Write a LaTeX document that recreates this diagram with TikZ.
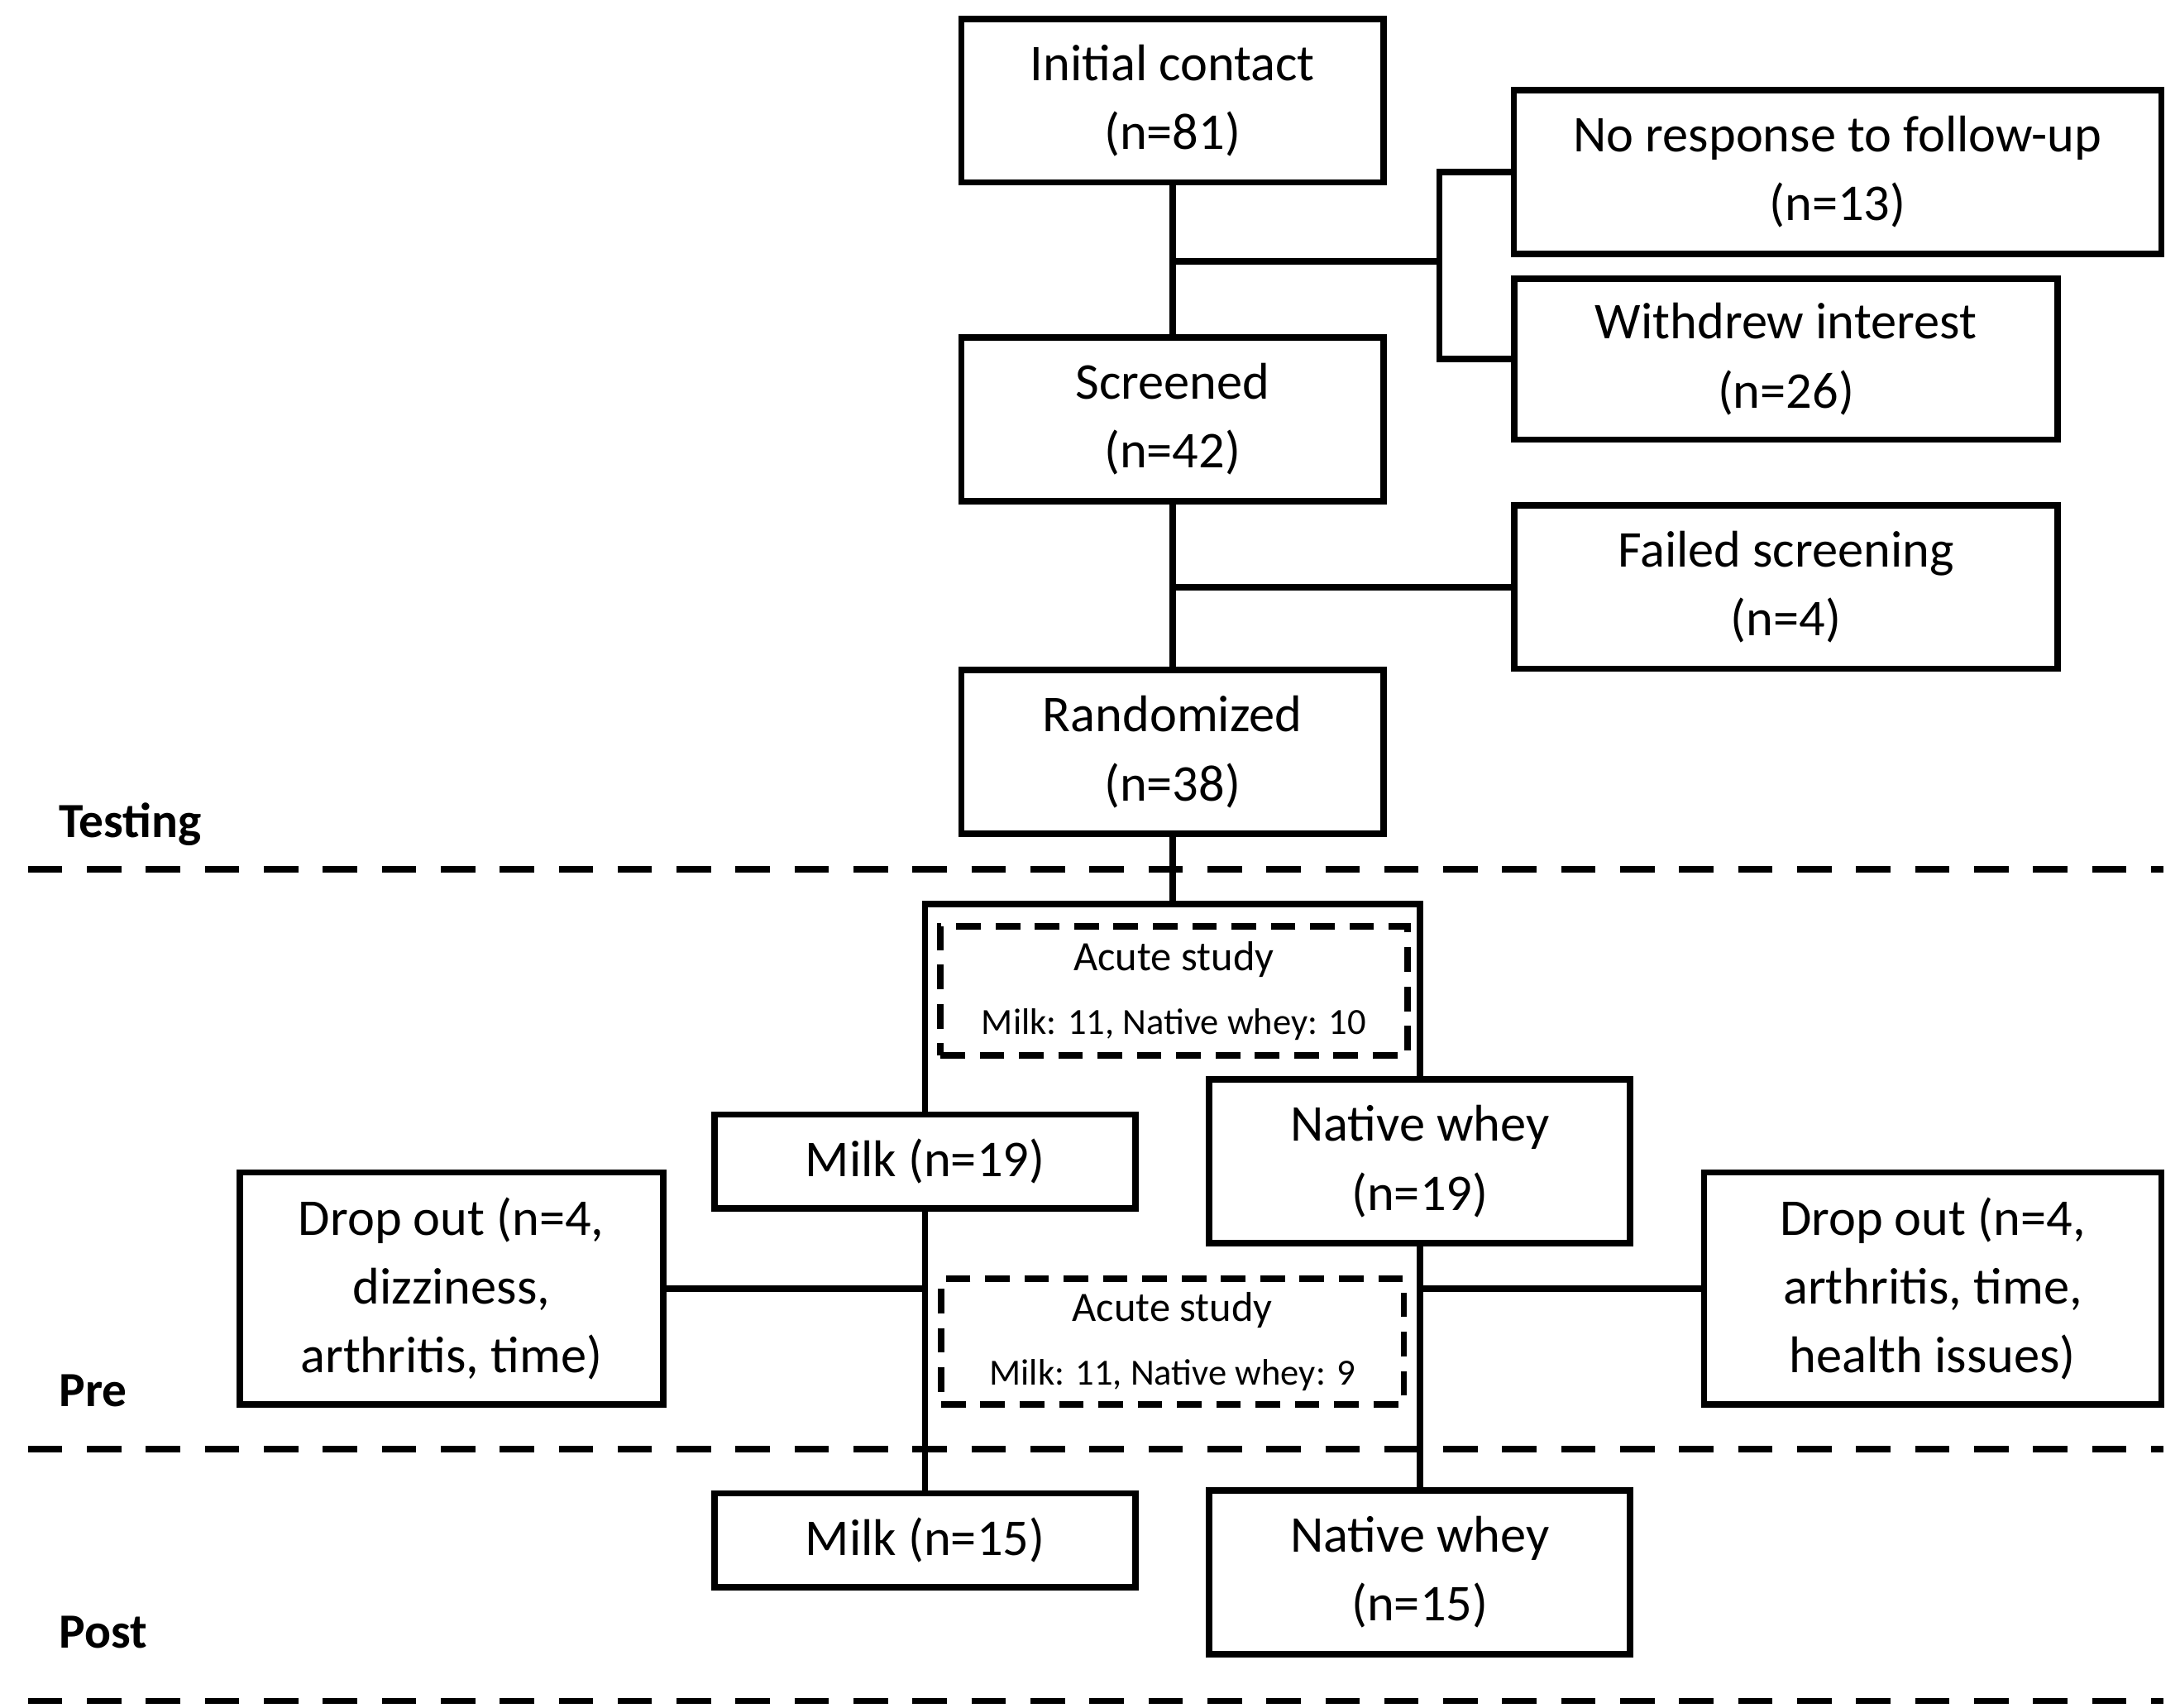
\documentclass[tikz,border=0pt]{standalone}
\usepackage{fontspec}
\setmainfont{Carlito}
\begin{document}
\begin{tikzpicture}[x=0.01cm,y=-0.01cm,
 box/.style={draw,line width=1.3pt,align=center,inner sep=0pt,font=\fontsize{10.5}{14}\selectfont},
 dbox/.style={draw,line width=1.3pt,dash pattern=on 5pt off 3pt,align=center,inner sep=0pt},
 ln/.style={line width=1.3pt},
 sep/.style={line width=1.3pt,dash pattern=on 7pt off 5pt},
 lab/.style={font=\fontsize{10}{12}\selectfont\bfseries,anchor=west}]
\useasboundingbox (0,0) rectangle (1560,1222);
\node[box,minimum width=3.02cm,minimum height=1.17cm] (init) at (839,72) {Initial contact\\(n=81)};
\node[box,minimum width=4.63cm,minimum height=1.17cm] (nores) at (1315,123) {No response to follow-up\\(n=13)};
\node[box,minimum width=3.89cm,minimum height=1.15cm] (withd) at (1278,257) {Withdrew interest\\(n=26)};
\node[box,minimum width=3.02cm,minimum height=1.17cm] (scr) at (839,300) {Screened\\(n=42)};
\node[box,minimum width=3.89cm,minimum height=1.17cm] (fail) at (1278,420) {Failed screening\\(n=4)};
\node[box,minimum width=3.02cm,minimum height=1.17cm] (rand) at (839,538) {Randomized\\(n=38)};
\node[dbox,minimum width=3.34cm,minimum height=0.92cm] (ac1) at (840,709) {\fontsize{8.5}{11}\selectfont Acute study\\[1pt]\fontsize{7.5}{10}\selectfont Milk: 11, Native whey: 10};
\node[box,minimum width=3.01cm,minimum height=0.67cm] (milk1) at (662,831) {Milk (n=19)};
\node[box,minimum width=3.01cm,minimum height=1.17cm] (nw1) at (1016,831) {Native whey\\(n=19)};
\node[box,minimum width=3.03cm,minimum height=1.66cm] (dl) at (323,922) {Drop out (n=4,\\dizziness,\\arthritis, time)};
\node[dbox,minimum width=3.31cm,minimum height=0.90cm] (ac2) at (839,960) {\fontsize{8.5}{11}\selectfont Acute study\\[1pt]\fontsize{7.5}{10}\selectfont Milk: 11, Native whey: 9};
\node[box,minimum width=3.27cm,minimum height=1.66cm] (dr) at (1383,922) {Drop out (n=4,\\arthritis, time,\\health issues)};
\node[box,minimum width=3.01cm,minimum height=0.67cm] (milk2) at (662,1102) {Milk (n=15)};
\node[box,minimum width=3.01cm,minimum height=1.17cm] (nw2) at (1016,1125) {Native whey\\(n=15)};
\node[lab] (tt) at (30,590) {Testing};
\node[lab] (tp) at (30,995) {Pre};
\node[lab] (tq) at (30,1168) {Post};
\coordinate (s1a) at (20,622); \coordinate (s1b) at (1548,622);
\coordinate (s2a) at (20,1037); \coordinate (s2b) at (1548,1037);
\coordinate (s3a) at (20,1217); \coordinate (s3b) at (1548,1217);
\draw[sep] (s1a)--(s1b); \draw[sep] (s2a)--(s2b); \draw[sep] (s3a)--(s3b);
\draw[ln] (init.south)--(scr.north);
\coordinate (j1) at (839,187); \coordinate (j2) at (1030,187);
\draw[ln] (j1)--(j2);
\draw[ln] (nores.west) -| (j2) |- (withd.west);
\draw[ln] (scr.south)--(rand.north);
\coordinate (j3) at (839,420);
\draw[ln] (j3)--(fail.west);
\coordinate (j4) at (839,647);
\draw[ln] (rand.south)--(j4);
\draw[ln] (j4) -| (milk1.north);
\draw[ln] (j4) -| (nw1.north);
\draw[ln] (milk1.south)--(milk2.north);
\draw[ln] (nw1.south)--(nw2.north);
\coordinate (j5) at (662,922); \coordinate (j6) at (1016,922);
\draw[ln] (dl.east)--(j5);
\draw[ln] (j6)--(dr.west);
\end{tikzpicture}
\end{document}
